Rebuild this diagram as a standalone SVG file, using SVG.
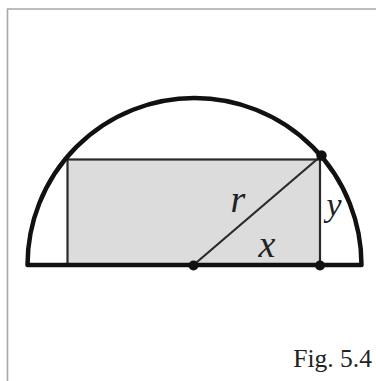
<svg xmlns="http://www.w3.org/2000/svg" width="376" height="381" viewBox="0 0 376 381">
<style>
.frame{fill:none;stroke:#a8a8a8;stroke-width:1.6}
.thick{fill:none;stroke:#111;stroke-width:4.5;stroke-linejoin:round}
.thin{fill:none;stroke:#2a2a2a;stroke-width:2.2}
.dot{fill:#111}
.lbl{font-family:"Liberation Serif",serif;font-style:italic;fill:#222}
.cap{font-family:"Liberation Serif",serif;fill:#222;font-size:25.5px}
</style>
<rect width="376" height="381" fill="#fff"/>
<path class="frame" d="M7.5,381 V9 H376"/>
<g id="rectangle">
<rect x="67.5" y="159.5" width="252.5" height="105.5" fill="#dcdcdc" stroke="#2a2a2a" stroke-width="2.2"/>
</g>
<g id="semicircle">
<path class="thick" d="M27.5,265 A167,167 0 0 1 361.5,265 Z"/>
</g>
<g id="connectors">
<line class="thin" x1="193.5" y1="265" x2="321.5" y2="155.5"/>
</g>
<g id="dots">
<circle class="dot" cx="193.5" cy="265.5" r="5"/>
<circle class="dot" cx="320" cy="265.5" r="5"/>
<circle class="dot" cx="321.5" cy="155.5" r="5.2"/>
</g>
<g id="labels">
<text class="lbl" x="238" y="212" font-size="38" text-anchor="middle">r</text>
<text class="lbl" x="267" y="256.5" font-size="38" text-anchor="middle">x</text>
<text class="lbl" x="334" y="215.5" font-size="34" text-anchor="middle">y</text>
<text class="cap" x="372" y="366.5" text-anchor="end">Fig. 5.4</text>
</g>
</svg>
